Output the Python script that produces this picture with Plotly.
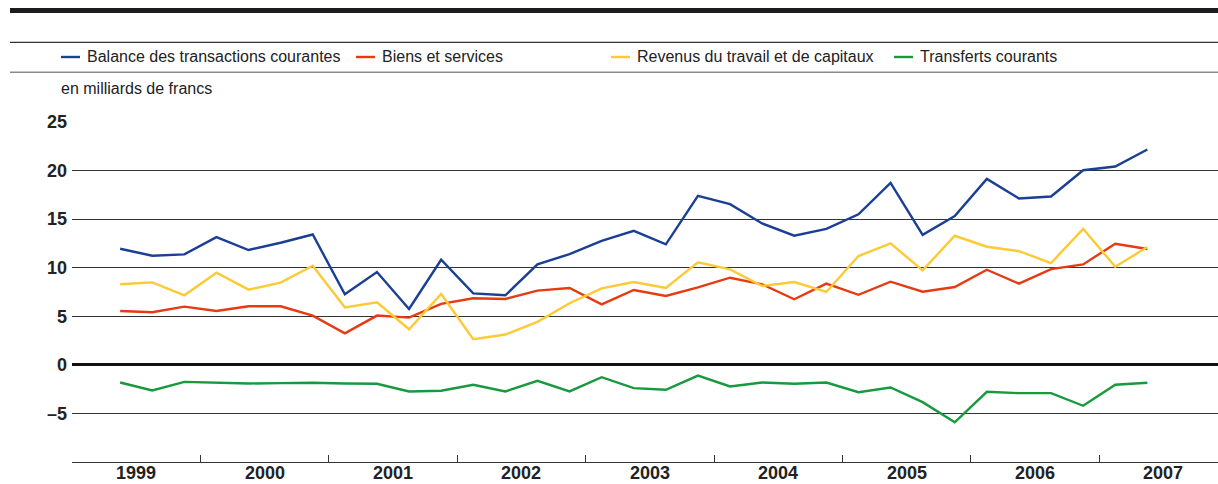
import plotly.graph_objects as go

# ---------------- data ----------------
quarters = ["1999T2", "1999T3", "1999T4",
            "2000T1", "2000T2", "2000T3", "2000T4",
            "2001T1", "2001T2", "2001T3", "2001T4",
            "2002T1", "2002T2", "2002T3", "2002T4",
            "2003T1", "2003T2", "2003T3", "2003T4",
            "2004T1", "2004T2", "2004T3", "2004T4",
            "2005T1", "2005T2", "2005T3", "2005T4",
            "2006T1", "2006T2", "2006T3", "2006T4",
            "2007T1", "2007T2"]

balance = [11.95, 11.23, 11.37, 13.15, 11.82, 12.57, 13.42, 7.26, 9.55, 5.75, 10.82,
           7.36, 7.16, 10.34, 11.4, 12.77, 13.8, 12.4, 17.4, 16.54, 14.55, 13.29,
           14.0, 15.5, 18.73, 13.39, 15.31, 19.14, 17.12, 17.33, 20.03, 20.41, 22.16]
biens = [5.55, 5.41, 5.99, 5.55, 6.03, 6.03, 5.07, 3.25, 5.07, 4.86, 6.27,
         6.85, 6.78, 7.64, 7.91, 6.23, 7.71, 7.09, 7.98, 8.97, 8.29, 6.75,
         8.36, 7.21, 8.56, 7.53, 8.01, 9.79, 8.36, 9.86, 10.34, 12.47, 11.92]
revenus = [8.29, 8.49, 7.16, 9.49, 7.74, 8.46, 10.2, 5.92, 6.44, 3.66, 7.29,
           2.64, 3.12, 4.42, 6.34, 7.88, 8.53, 7.91, 10.55, 9.83, 8.12, 8.53,
           7.5, 11.2, 12.5, 9.73, 13.29, 12.16, 11.71, 10.48, 14.0, 10.1, 12.12]
transferts = [-1.82, -2.64, -1.75, -1.82, -1.92, -1.88, -1.85, -1.92, -1.95, -2.74, -2.67,
              -2.05, -2.74, -1.64, -2.74, -1.27, -2.40, -2.57, -1.10, -2.23, -1.82, -1.95,
              -1.82, -2.81, -2.33, -3.84, -5.92, -2.77, -2.91, -2.91, -4.21, -2.05, -1.85]

series_names = ["Balance des transactions courantes", "Biens et services",
                "Revenus du travail et de capitaux", "Transferts courants"]
series_values = [balance, biens, revenus, transferts]
series_colors = ["#1b3f95", "#e63b12", "#fdca35", "#17993d"]

years = [1999, 2000, 2001, 2002, 2003, 2004, 2005, 2006, 2007]
y_ticks = [-5, 0, 5, 10, 15, 20, 25]
y_ticktext = ["–5", "0", "5", "10", "15", "20", "25"]
unit_label = "en milliards de francs"

# ---------------- layout helpers ----------------
W, H = 1218, 484
ML, MR, MT, MB = 72, 0, 121, 22
PW, PH = W - ML - MR, H - MT - MB


def xp(px):
    return (px - ML) / PW


def yp(py):
    return (H - MB - py) / PH


def qpos(label):
    y, q = label.split("T")
    return int(y) + (int(q) - 0.5) / 4.0


x_vals = [qpos(q) for q in quarters]

TEXT_FONT = "Liberation Sans, Arial, sans-serif"
BOLD_FONT = "Liberation Sans, Arial, sans-serif"

fig = go.Figure()
for name, vals, col in zip(series_names, series_values, series_colors):
    fig.add_trace(go.Scatter(x=x_vals, y=vals, mode="lines", name=name,
                             line=dict(color=col, width=2.4), showlegend=False))

shapes = []
annotations = []
# header bars
shapes.append(dict(type="rect", xref="paper", yref="paper", x0=xp(10), x1=xp(1218),
                   y0=yp(13), y1=yp(8), fillcolor="#1c1c20", line=dict(width=0), layer="above"))
shapes.append(dict(type="line", xref="paper", yref="paper", x0=xp(10), x1=xp(1218),
                   y0=yp(42.3), y1=yp(42.3), line=dict(color="#333333", width=1.2)))
shapes.append(dict(type="line", xref="paper", yref="paper", x0=xp(10), x1=xp(1218),
                   y0=yp(72.3), y1=yp(72.3), line=dict(color="#8a8a8a", width=1.5)))

# custom legend
leg_x = [61, 356, 611, 894]
for name, col, lx in zip(series_names, series_colors, leg_x):
    shapes.append(dict(type="line", xref="paper", yref="paper", x0=xp(lx), x1=xp(lx + 19),
                       y0=yp(57), y1=yp(57), line=dict(color=col, width=2.4)))
    annotations.append(dict(xref="paper", yref="paper", x=xp(lx + 24), y=yp(57),
                            xanchor="left", yanchor="middle", showarrow=False, text=name,
                            font=dict(family=TEXT_FONT, size=16, color="#222222")))

annotations.append(dict(xref="paper", yref="paper", x=xp(59), y=yp(88),
                        xanchor="left", yanchor="middle", showarrow=False, text=unit_label,
                        font=dict(family=TEXT_FONT, size=16, color="#222222")))

# year labels centred in each year band
for yr in years:
    annotations.append(dict(xref="x", yref="paper", x=yr + 0.5, y=yp(472.5),
                            xanchor="center", yanchor="middle", showarrow=False, text=str(yr),
                            font=dict(family=BOLD_FONT, size=18, color="#222222", weight="bold")))

fig.update_layout(
    width=W, height=H,
    margin=dict(l=ML, r=MR, t=MT, b=MB, autoexpand=False),
    paper_bgcolor="white", plot_bgcolor="white",
    shapes=shapes, annotations=annotations,
    xaxis=dict(range=[1999, 1999 + PW / 128.4], showgrid=False, zeroline=False,
               showline=True, linecolor="#333333", linewidth=1.2,
               tickmode="array", tickvals=years, showticklabels=False,
               ticks="inside", ticklen=7, tickcolor="#333333", tickwidth=1.2),
    yaxis=dict(range=[-10, 25.1], showgrid=True, gridcolor="#333333", gridwidth=1.1,
               zeroline=True, zerolinecolor="#111111", zerolinewidth=2.5,
               showline=False, tickmode="array", tickvals=y_ticks, ticktext=y_ticktext,
               ticks="", ticklabelstandoff=4,
               tickfont=dict(family=BOLD_FONT, size=18, color="#222222", weight="bold")),
)

fig.write_html("out.html")
